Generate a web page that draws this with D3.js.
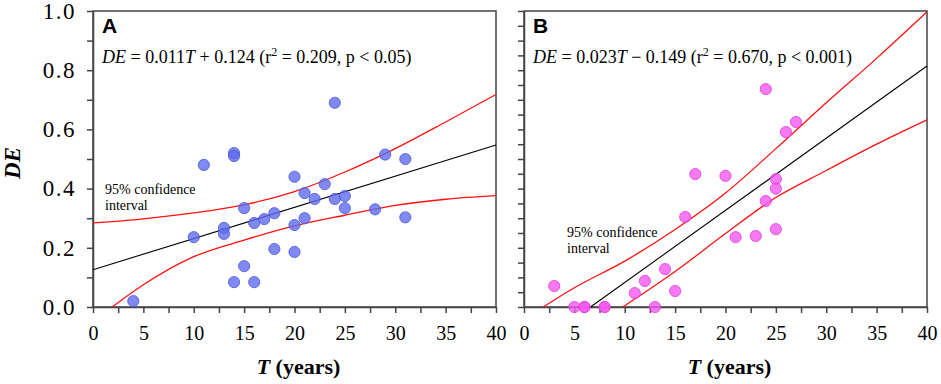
<!DOCTYPE html>
<html>
<head>
<meta charset="utf-8">
<script src="https://cdn.jsdelivr.net/npm/d3@7"></script>
<style>
  body { margin: 0; background: #fff; }
</style>
</head>
<body>
<div id="chart"></div>
<script>
// panel A : DE vs T, blue points
let pointsAT = [4, 10, 11, 13, 13, 14, 14, 14, 15, 15, 16, 16, 17, 18, 18, 20, 20, 20, 21, 21, 22, 23, 24, 24, 25, 25, 28, 29, 31, 31];
let pointsADE = [0.02, 0.236, 0.48, 0.267, 0.247, 0.52, 0.51, 0.084, 0.334, 0.138, 0.284, 0.084, 0.297, 0.317, 0.196, 0.44, 0.277, 0.186, 0.385, 0.30, 0.365, 0.415, 0.69, 0.365, 0.375, 0.334, 0.33, 0.515, 0.50, 0.303];
let fitA = [[0, 0.126], [40, 0.547]];
let upperA = [[0, 0.284], [5, 0.298], [10, 0.318], [15, 0.345], [20, 0.39], [25, 0.456], [30, 0.535], [35, 0.625], [40, 0.718]];
let lowerA = [[1.9, 0], [5, 0.075], [10, 0.17], [15, 0.226], [20, 0.274], [25, 0.31], [30, 0.343], [35, 0.364], [40, 0.376]];

// panel B : DE vs T, magenta points
let pointsBT = [3, 5, 6, 6, 8, 8, 11, 12, 13, 14, 15, 16, 17, 20, 21, 23, 24, 24, 25, 25, 25, 26, 27];
let pointsBDE = [0.071, 0, 0, 0, 0, 0, 0.047, 0.088, 0, 0.128, 0.054, 0.304, 0.449, 0.443, 0.236, 0.24, 0.736, 0.358, 0.432, 0.40, 0.263, 0.591, 0.625];
let fitB = [[6.6, 0], [40, 0.814]];
let upperB = [[1.9, 0], [5, 0.065], [10, 0.155], [15, 0.262], [20, 0.385], [25, 0.535], [30, 0.69], [35, 0.84], [40, 0.997]];
let lowerB = [[9.8, 0], [15, 0.12], [20, 0.248], [25, 0.37], [30, 0.461], [35, 0.55], [40, 0.632]];

// axis ticks
let xTicks = d3.range(0, 40.1, 2.5);
let xLabels = [0, 5, 10, 15, 20, 25, 30, 35, 40];
let yTicksA = d3.range(0, 1.001, 0.1);
let yTicksB = d3.range(0, 1.001, 0.05);
let yLabels = [0, 0.2, 0.4, 0.6, 0.8, 1.0];

(function () {
  let width = 941, height = 384;
  let top = 11, bottom = 307;
  let serif = '"Liberation Serif", "Times New Roman", Times, serif';

  let svg = d3.select('#chart')
    .append('svg')
    .attr('width', width)
    .attr('height', height)
    .style('font-family', serif);

  let yScale = d3.scaleLinear()
    .domain([0, 1])
    .range([bottom, top]);

  function drawPanel(opts) {
    let xScale = d3.scaleLinear()
      .domain([0, 40])
      .range([opts.left, opts.left + 403]);

    let g = svg.append('g');

    // x axis
    let xAxis = d3.axisBottom(xScale)
      .tickValues(xTicks)
      .tickSize(6)
      .tickSizeOuter(0)
      .tickPadding(8)
      .tickFormat(d => xLabels.includes(d) ? d : '');

    let xg = g.append('g')
      .attr('transform', `translate(0, ${bottom})`)
      .call(xAxis)
      .attr('font-family', null);
    xg.selectAll('text')
      .style('font-family', serif)
      .style('font-size', '20px')
      .attr('fill', '#000')
      .attr('dy', '0.95em');

    // y axis
    let yAxis = d3.axisLeft(yScale)
      .tickValues(opts.yTicks)
      .tickSize(6)
      .tickSizeOuter(0)
      .tickPadding(11)
      .tickFormat(d => opts.showY && yLabels.some(v => Math.abs(v - d) < 1e-6) ? d3.format('.1f')(d) : '');

    let yg = g.append('g')
      .attr('transform', `translate(${opts.left}, 0)`)
      .call(yAxis)
      .attr('font-family', null);
    yg.selectAll('text')
      .style('font-family', serif)
      .style('font-size', '23px')
      .style('letter-spacing', '1.5px')
      .attr('fill', '#000');

    g.selectAll('.domain, .tick line')
      .attr('stroke', '#444')
      .attr('stroke-width', 1.5);

    // frame
    g.append('rect')
      .attr('x', xScale(0))
      .attr('y', top)
      .attr('width', xScale(40) - xScale(0))
      .attr('height', bottom - top)
      .attr('fill', 'none')
      .attr('stroke', '#444')
      .attr('stroke-width', 1.5);

    let line = d3.line()
      .x(d => xScale(d[0]))
      .y(d => yScale(d[1]))
      .curve(d3.curveMonotoneX);

    g.append('path')
      .datum(opts.fit)
      .attr('d', line)
      .attr('fill', 'none')
      .attr('stroke', '#000')
      .attr('stroke-width', 1.1);

    [opts.upper, opts.lower].forEach(band => {
      g.append('path')
        .datum(band)
        .attr('d', line)
        .attr('fill', 'none')
        .attr('stroke', '#ff1010')
        .attr('stroke-width', 1.3);
    });

    // points
    let pts = opts.xs.map((x, i) => ({ t: x, de: opts.ys[i] }));
    g.selectAll('circle.pt')
      .data(pts)
      .enter()
      .append('circle')
      .attr('class', 'pt')
      .attr('cx', d => xScale(d.t))
      .attr('cy', d => yScale(d.de))
      .attr('r', 5.6)
      .attr('fill', opts.fill)
      .attr('fill-opacity', 0.8)
      .attr('stroke', opts.stroke)
      .attr('stroke-width', 0.8);

    // panel letter
    g.append('text')
      .attr('x', xScale(0) + 9)
      .attr('y', 33)
      .style('font-family', '"Liberation Sans", Arial, sans-serif')
      .style('font-weight', 'bold')
      .style('font-size', '21px')
      .text(opts.letter);

    // equation
    let eq = g.append('text')
      .attr('x', xScale(0) + opts.eqDx)
      .attr('y', 63)
      .style('font-family', serif)
      .style('font-size', '18px');
    eq.append('tspan').style('font-style', 'italic').text('DE');
    eq.append('tspan').text(' = ' + opts.slope);
    eq.append('tspan').style('font-style', 'italic').text('T');
    eq.append('tspan').text(' ' + opts.intercept + ' (r');
    eq.append('tspan').attr('dy', -7).style('font-size', '12px').text('2');
    eq.append('tspan').attr('dy', 7).text(' = ' + opts.r2 + ', p < ' + opts.p + ')');

    // confidence note
    let note = g.append('text')
      .style('font-family', serif)
      .style('font-size', '14px');
    note.append('tspan').attr('x', opts.noteX).attr('y', opts.noteY).text('95% confidence');
    note.append('tspan').attr('x', opts.noteX).attr('y', opts.noteY + 16).text('interval');

    // x title
    let xt = g.append('text')
      .attr('x', (xScale(0) + xScale(40)) / 2 + 4)
      .attr('y', 374)
      .attr('text-anchor', 'middle')
      .style('font-family', serif)
      .style('font-size', '22px')
      .style('font-weight', 'bold');
    xt.append('tspan').style('font-style', 'italic').text('T');
    xt.append('tspan').text(' (years)');
  }

  drawPanel({
    letter: 'A', left: 93, xs: pointsAT, ys: pointsADE,
    fit: fitA, upper: upperA, lower: lowerA,
    fill: '#5f6cee', stroke: '#4858dc',
    yTicks: yTicksA, showY: true,
    eqDx: 9, slope: '0.011', intercept: '+ 0.124', r2: '0.209', p: '0.05',
    noteX: 105, noteY: 194
  });

  drawPanel({
    letter: 'B', left: 524, xs: pointsBT, ys: pointsBDE,
    fit: fitB, upper: upperB, lower: lowerB,
    fill: '#f558f0', stroke: '#e03cdc',
    yTicks: yTicksB, showY: false,
    eqDx: 9, slope: '0.023', intercept: '\u2212 0.149', r2: '0.670', p: '0.001',
    noteX: 567, noteY: 237
  });

  // y title
  svg.append('text')
    .attr('transform', 'translate(20, 163) rotate(-90)')
    .attr('text-anchor', 'middle')
    .style('font-family', serif)
    .style('font-size', '23px')
    .style('font-weight', 'bold')
    .style('font-style', 'italic')
    .text('DE');
})();
</script>
</body>
</html>
